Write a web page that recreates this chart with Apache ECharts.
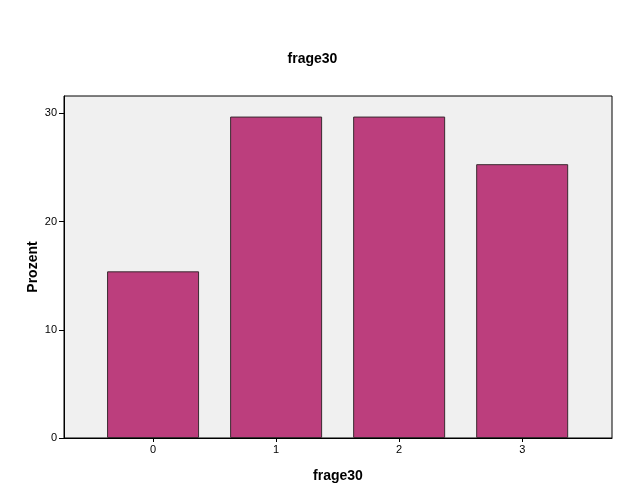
<!DOCTYPE html>
<html>
<head>
<meta charset="utf-8">
<script src="https://cdn.jsdelivr.net/npm/echarts@6/dist/echarts.min.js"></script>
<style>html,body{margin:0;padding:0;background:#fff}#c{width:625px;height:500px}</style>
</head>
<body>
<div id="c"></div>
<script>
const categories = ['0', '1', '2', '3'];
const percentValues = [15.4, 29.7, 29.7, 25.3];
const yTicks = [0, 10, 20, 30];

const chart = echarts.init(document.getElementById('c'), null, {renderer: 'canvas'});
const font = 'Liberation Sans, Arial, sans-serif';
chart.setOption({
  animation: false,
  title: {
    text: 'frage30', left: 'center', top: 47,
    textStyle: {fontFamily: font, fontSize: 14, fontWeight: 'bold', color: '#000'}
  },
  grid: {
    left: 64, right: 13, top: 96, bottom: 62,
    show: true, backgroundColor: '#f0f0f0', borderColor: '#000', borderWidth: 1
  },
  xAxis: {
    type: 'value', min: -0.724, max: 3.73,
    name: 'frage30', nameLocation: 'middle', nameGap: 31, nameMoveOverlap: false,
    nameTextStyle: {fontFamily: font, fontSize: 14, fontWeight: 'bold', color: '#000'},
    axisLine: {show: true, onZero: false, lineStyle: {color: '#000', width: 1}},
    axisTick: {show: true, length: 4, lineStyle: {color: '#000'}, customValues: categories.map((c, i) => i)},
    axisLabel: {fontFamily: font, fontSize: 11, color: '#000', margin: 6,
      customValues: categories.map((c, i) => i),
      formatter: v => categories[Math.round(v)]},
    splitLine: {show: false}
  },
  yAxis: {
    type: 'value', min: 0, max: 31.6,
    name: 'Prozent', nameLocation: 'middle', nameGap: 24, nameRotate: 90, nameMoveOverlap: false,
    nameTextStyle: {fontFamily: font, fontSize: 14, fontWeight: 'bold', color: '#000'},
    axisLine: {show: true, onZero: false, lineStyle: {color: '#000', width: 1}},
    axisTick: {show: true, length: 5, lineStyle: {color: '#000'}, customValues: yTicks},
    axisLabel: {fontFamily: font, fontSize: 11, color: '#000', margin: 7, customValues: yTicks},
    splitLine: {show: false}
  },
  series: [{
    type: 'bar',
    data: categories.map((c, i) => [i, percentValues[i]]),
    barWidth: 92,
    itemStyle: {color: '#bc3e7d', borderColor: '#3a2a30', borderWidth: 1}
  }]
});
</script>
</body>
</html>
